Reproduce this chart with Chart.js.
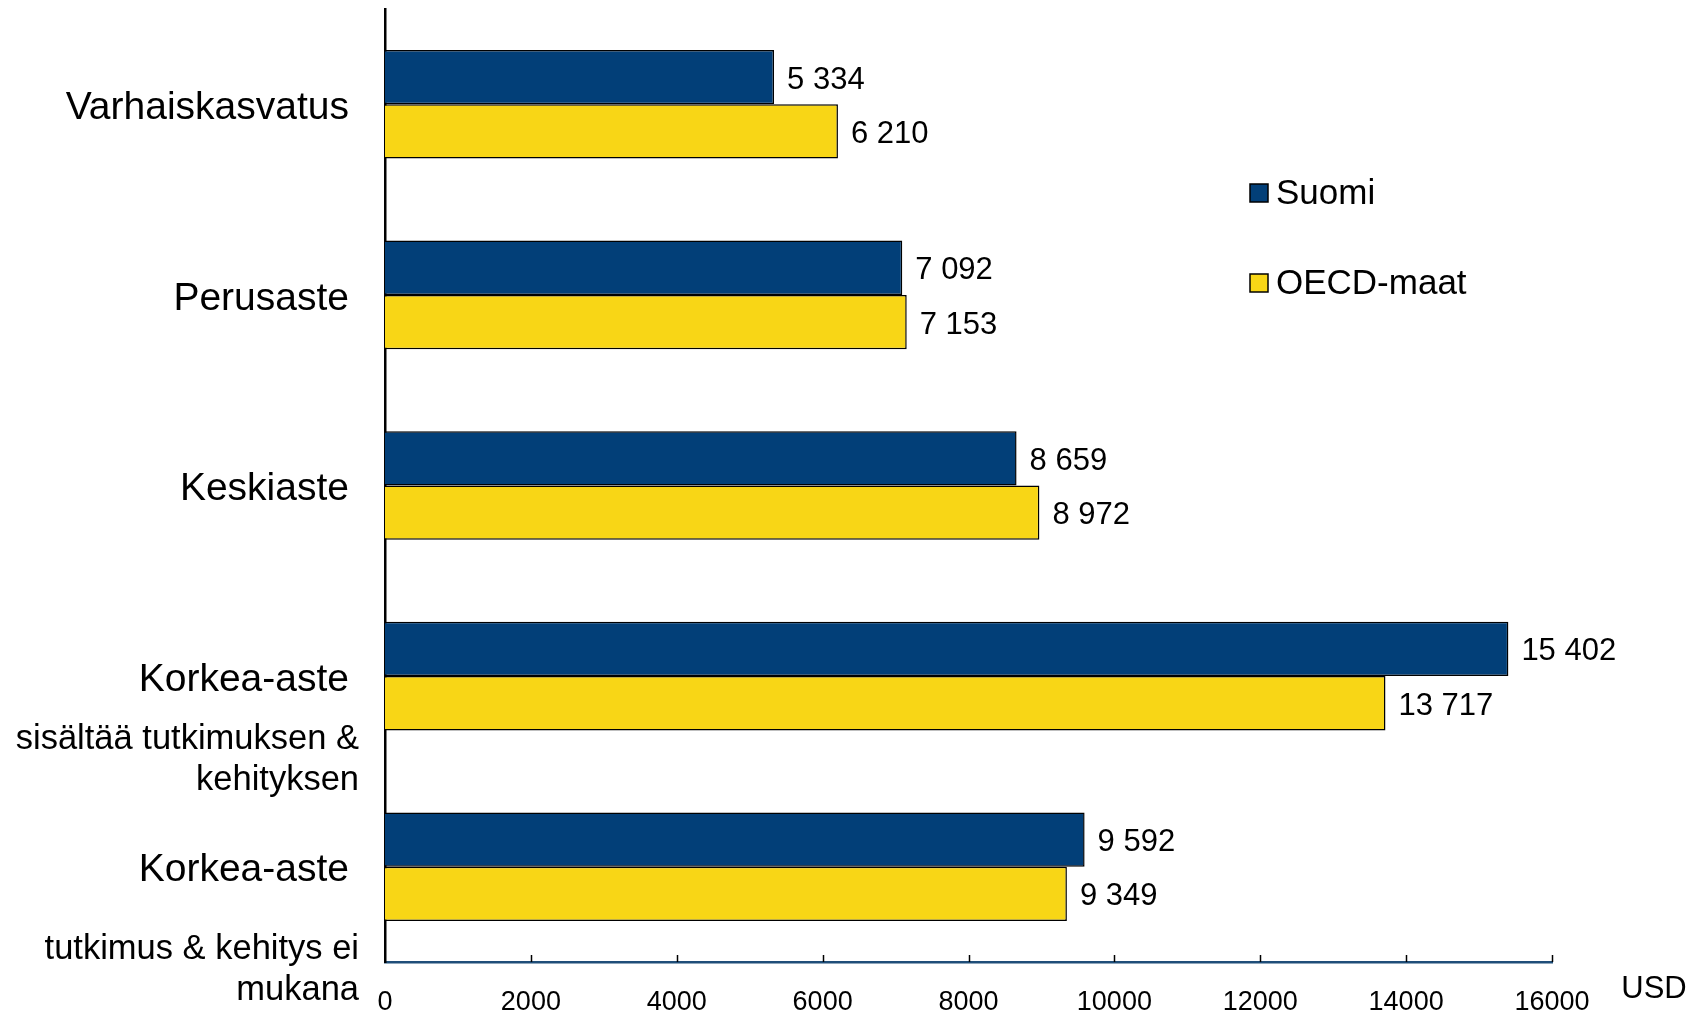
<!DOCTYPE html>
<html lang="fi">

<head>
  <meta charset="UTF-8">
  <title>Koulutusmenot opiskelijaa kohden</title>
  <script src="https://cdn.jsdelivr.net/npm/chart.js"></script>
  <style>
    html, body { margin: 0; padding: 0; background: #fff; }
    .wrap { width: 1701px; height: 1011px; position: relative; }
  </style>
</head>

<body>
  <div class="wrap">
    <canvas id="eduChart"></canvas>
  </div>
  <script>
    // data
    const categories = ['Varhaiskasvatus', 'Perusaste', 'Keskiaste', 'Korkea-aste', 'Korkea-aste'];
    const subLabels = [[], [], [], ['sisältää tutkimuksen &', 'kehityksen'], ['tutkimus & kehitys ei', 'mukana']];
    const suomi = [5334, 7092, 8659, 15402, 9592];
    const oecd = [6210, 7153, 8972, 13717, 9349];
    const seriesNames = ['Suomi', 'OECD-maat'];
    const xTicks = [0, 2000, 4000, 6000, 8000, 10000, 12000, 14000, 16000];
    const unitLabel = 'USD';

    const FONT = '"Liberation Sans", Arial, sans-serif';
    const NAVY = '#023f78';
    const YELLOW = '#f8d616';

    function fmt(v) {
      return String(v).replace(/\B(?=(\d{3})+(?!\d))/g, ' ');
    }

    // labels, tick marks, legend etc. drawn on top of the chart
    const extras = {
      id: 'extras',
      afterDraw(chart) {
        const ctx = chart.ctx;
        const x = chart.scales.x;
        const y = chart.scales.y;
        const area = chart.chartArea;
        ctx.save();

        // small tick marks pointing up from the x axis
        ctx.strokeStyle = '#000';
        ctx.lineWidth = 1.5;
        xTicks.forEach(v => {
          if (v === 0) return;
          const px = Math.round(x.getPixelForValue(v)) + 0.5;
          ctx.beginPath();
          ctx.moveTo(px, area.bottom);
          ctx.lineTo(px, area.bottom - 7);
          ctx.stroke();
        });

        // category labels
        ctx.fillStyle = '#000';
        ctx.textAlign = 'right';
        ctx.textBaseline = 'middle';
        categories.forEach((c, i) => {
          const py = y.getPixelForValue(i);
          ctx.font = '39px ' + FONT;
          ctx.fillText(c, 349, py + 4);
          ctx.font = '34.5px ' + FONT;
          const off = i === 3 ? 63 : 83;
          subLabels[i].forEach((s, j) => {
            ctx.fillText(s, 359, py + off + j * 41);
          });
        });

        // value labels at the bar ends
        ctx.font = '31px ' + FONT;
        ctx.textAlign = 'left';
        chart.data.datasets.forEach((ds, d) => {
          chart.getDatasetMeta(d).data.forEach((bar, i) => {
            ctx.fillText(fmt(ds.data[i]), bar.x + 13, bar.y + 3);
          });
        });

        // legend
        ctx.font = '35px ' + FONT;
        const legendY = [193, 283];
        chart.data.datasets.forEach((ds, d) => {
          ctx.fillStyle = ds.backgroundColor;
          ctx.fillRect(1250, legendY[d] - 9, 18, 18);
          ctx.strokeStyle = '#000';
          ctx.lineWidth = 1.5;
          ctx.strokeRect(1250, legendY[d] - 9, 18, 18);
          ctx.fillStyle = '#000';
          ctx.fillText(ds.label, 1276, legendY[d] + 1);
        });

        // unit
        ctx.font = '31px ' + FONT;
        ctx.textAlign = 'center';
        ctx.fillText(unitLabel, 1654, 989);

        ctx.restore();
      }
    };

    const ctx = document.getElementById('eduChart').getContext('2d');
    const chart = new Chart(ctx, {
      type: 'bar',
      data: {
        labels: categories,
        datasets: [{
          label: seriesNames[0],
          data: suomi,
          backgroundColor: NAVY,
          borderColor: '#000',
          borderWidth: 1.5,
        }, {
          label: seriesNames[1],
          data: oecd,
          backgroundColor: YELLOW,
          borderColor: '#000',
          borderWidth: 1.5,
        }]
      },
      options: {
        indexAxis: 'y',
        responsive: true,
        maintainAspectRatio: false,
        animation: false,
        layout: { padding: { top: 9, right: 149, left: 0, bottom: 0 } },
        datasets: {
          bar: { categoryPercentage: 0.57, barPercentage: 1.0 }
        },
        plugins: {
          legend: { display: false },
          tooltip: { enabled: false },
        },
        scales: {
          x: {
            type: 'linear',
            min: 0,
            max: 16000,
            afterBuildTicks: (scale) => {
              scale.ticks = xTicks.map(v => ({ value: v }));
            },
            afterFit: (scale) => { scale.height = 49; },
            ticks: {
              color: '#000',
              padding: 24,
              maxRotation: 0,
              autoSkip: false,
              font: { family: FONT, size: 27 },
              callback: (v) => String(v),
            },
            grid: { display: false, drawTicks: false },
            border: { display: true, color: '#1f4e79', width: 2.5 },
          },
          y: {
            afterFit: (scale) => { scale.width = 385; },
            ticks: { display: false },
            grid: { display: false, drawTicks: false },
            border: { display: true, color: '#000', width: 2.5 },
          }
        }
      },
      plugins: [extras]
    });
  </script>
</body>

</html>
